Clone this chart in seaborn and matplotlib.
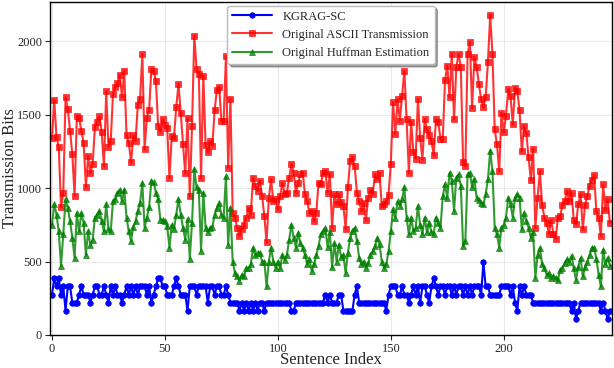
import numpy as np
import pandas as pd
import matplotlib
matplotlib.use("Agg")
import matplotlib.pyplot as plt
import seaborn as sns

# values (bits per sentence)
kgrag_sc = [
    275, 385, 330, 385, 275, 330, 165, 330, 330, 220,
    220, 220, 275, 330, 275, 275, 275, 220, 275, 330,
    330, 275, 275, 330, 275, 220, 330, 275, 330, 275,
    275, 220, 275, 330, 275, 330, 275, 330, 275, 330,
    330, 330, 275, 330, 220, 275, 330, 385, 385, 330,
    330, 275, 275, 275, 330, 385, 330, 275, 275, 275,
    165, 330, 330, 330, 275, 330, 330, 330, 330, 220,
    330, 330, 275, 330, 330, 275, 275, 330, 275, 220,
    220, 220, 220, 165, 220, 165, 220, 165, 220, 165,
    220, 165, 220, 220, 165, 220, 220, 220, 220, 220,
    220, 220, 220, 220, 220, 220, 165, 165, 220, 220,
    220, 220, 220, 220, 220, 220, 220, 220, 220, 220,
    220, 275, 220, 275, 220, 220, 220, 275, 275, 165,
    165, 165, 165, 165, 275, 330, 220, 220, 220, 220,
    220, 220, 220, 220, 220, 220, 220, 220, 165, 275,
    330, 330, 330, 275, 275, 330, 275, 275, 220, 275,
    330, 275, 330, 220, 330, 330, 275, 220, 330, 385,
    330, 275, 330, 330, 275, 330, 330, 275, 330, 275,
    330, 330, 275, 330, 275, 330, 275, 330, 330, 330,
    275, 495, 330, 330, 275, 275, 275, 275, 275, 330,
    330, 330, 330, 275, 330, 220, 165, 330, 275, 330,
    275, 275, 275, 220, 220, 220, 220, 220, 220, 220,
    220, 220, 220, 220, 220, 220, 220, 220, 220, 220,
    165, 220, 110, 165, 220, 220, 220, 220, 220, 220,
    220, 220, 220, 165, 220, 165, 110, 165,
]

ascii_bits = [
    1340, 1600, 1350, 1280, 870, 970, 1620, 1540, 1390, 1230,
    950, 1490, 1480, 1390, 1310, 1010, 1220, 1100, 1165, 1415,
    1450, 1490, 1380, 1150, 1660, 1280, 1320, 1640, 1690, 1715,
    1770, 1620, 1800, 1360, 1310, 1175, 1360, 1320, 1570, 1610,
    1915, 1265, 1480, 1535, 1810, 1800, 1730, 1425, 1385, 1470,
    1430, 1410, 1070, 1355, 1345, 1550, 1710, 1515, 1300, 1100,
    1480, 945, 1425, 2040, 1810, 1780, 1070, 1765, 1295, 1245,
    1320, 1290, 1530, 1670, 1690, 1460, 1460, 1900, 1140, 1610,
    830, 800, 730, 675, 720, 750, 800, 865, 820, 1070,
    1015, 980, 1050, 950, 810, 630, 935, 1060, 910, 925,
    855, 945, 1035, 960, 970, 1070, 1165, 1105, 970, 1035,
    1095, 1105, 960, 910, 830, 845, 775, 830, 1035, 1025,
    1105, 1115, 970, 1095, 730, 960, 890, 960, 905, 880,
    725, 1005, 1185, 1210, 1150, 970, 910, 845, 900, 785,
    935, 990, 960, 1095, 1060, 1105, 880, 890, 910, 955,
    1165, 1585, 1370, 1605, 1460, 1630, 1800, 1470, 1105, 1450,
    1245, 1200, 1605, 1345, 1195, 1470, 1400, 1360, 1320, 1225,
    1470, 1450, 1335, 1335, 1735, 1835, 1620, 1915, 1470, 1825,
    1915, 1825, 1180, 1150, 1915, 1995, 1545, 1895, 1825, 1710,
    1605, 1550, 1620, 1860, 2180, 1915, 1400, 1300, 1115, 1515,
    1380, 1495, 1675, 1630, 1435, 1685, 1665, 1530, 1250, 1425,
    1375, 1210, 1055, 1270, 730, 935, 1115, 885, 800, 765,
    690, 780, 690, 655, 800, 810, 885, 910, 980, 910,
    970, 785, 755, 890, 960, 720, 885, 945, 1015, 1055,
    1090, 845, 800, 675, 1025, 850, 925, 765,
]

huffman_bits = [
    750, 890, 820, 705, 470, 685, 925, 865, 775, 660,
    525, 830, 705, 830, 765, 545, 705, 610, 650, 800,
    820, 845, 775, 705, 890, 720, 705, 910, 925, 970,
    990, 910, 990, 800, 705, 640, 735, 775, 845, 900,
    1035, 730, 800, 870, 1050, 1040, 970, 925, 785, 785,
    775, 740, 595, 750, 720, 820, 925, 820, 730, 650,
    790, 520, 765, 1130, 1005, 985, 575, 970, 730, 700,
    730, 735, 820, 865, 900, 820, 800, 1080, 615, 865,
    500, 420, 400, 370, 410, 400, 455, 455, 480, 595,
    545, 560, 560, 500, 500, 330, 500, 595, 500, 455,
    500, 455, 545, 510, 545, 650, 750, 660, 595, 695,
    625, 595, 545, 480, 515, 435, 480, 545, 605, 685,
    705, 730, 600, 700, 460, 625, 500, 615, 530, 545,
    420, 560, 660, 705, 730, 640, 525, 480, 500, 455,
    490, 545, 570, 605, 660, 620, 500, 455, 480, 570,
    705, 855, 800, 910, 880, 925, 1005, 800, 685, 800,
    705, 730, 880, 750, 685, 800, 700, 765, 700, 690,
    800, 760, 730, 945, 1025, 935, 1105, 1050, 845, 1070,
    1095, 1015, 605, 640, 1095, 1105, 1005, 1060, 935, 920,
    900, 890, 960, 1060, 1255, 1115, 730, 685, 595, 730,
    750, 800, 935, 890, 800, 935, 960, 935, 720, 830,
    775, 730, 660, 700, 390, 545, 595, 480, 455, 410,
    420, 390, 400, 390, 375, 445, 455, 490, 515, 500,
    540, 455, 375, 465, 525, 400, 460, 500, 545, 595,
    595, 520, 410, 330, 580, 480, 525, 470,
]

series_names = ["KGRAG-SC", "Original ASCII Transmission", "Original Huffman Estimation"]
x_ticks = [0, 50, 100, 150, 200]
y_ticks = [0, 500, 1000, 1500, 2000]

sentence_idx = np.arange(len(ascii_bits))
df = pd.DataFrame({
    "idx": sentence_idx,
    "kgrag": kgrag_sc,
    "ascii": ascii_bits,
    "huffman": huffman_bits,
})

sns.set_style("ticks")
plt.rcParams["font.family"] = ["Liberation Serif", "DejaVu Serif"]

fig, ax = plt.subplots(figsize=(6.14, 3.68), dpi=100)
fig.subplots_adjust(left=0.081, right=0.997, top=0.995, bottom=0.09)

# series style: (column, color, marker, alpha)
styles = [
    ("kgrag", "blue", "o", 1.0),
    ("ascii", "red", "s", 0.8),
    ("huffman", "green", "^", 0.8),
]
for (col, color, marker, alpha), name in zip(styles, series_names):
    sns.lineplot(data=df, x="idx", y=col, ax=ax, color=color, marker=marker,
                 markersize=4, markeredgecolor=color, markeredgewidth=0.5,
                 linewidth=1.5, alpha=alpha, label=name)

ax.set_xlim(-1, 248)
ax.set_ylim(0, 2270)
ax.set_xticks(x_ticks)
ax.set_yticks(y_ticks)
ax.tick_params(labelsize=9, pad=2)
ax.grid(True, color="#dddddd", alpha=0.6, linewidth=0.8)
for s in ax.spines.values():
    s.set_color("black")
    s.set_linewidth(1.0)

ax.set_xlabel("Sentence Index", fontsize=12)
ax.set_ylabel("Transmission Bits", fontsize=12)
ax.xaxis.set_label_coords(0.5, -0.052)
ax.yaxis.set_label_coords(-0.056, 0.5)

ax.legend(loc="upper center", fontsize=9, shadow=True, fancybox=True,
          framealpha=1, edgecolor="#bbbbbb", handlelength=3.2,
          borderaxespad=0.3)

fig.savefig("out.png", dpi=100)
